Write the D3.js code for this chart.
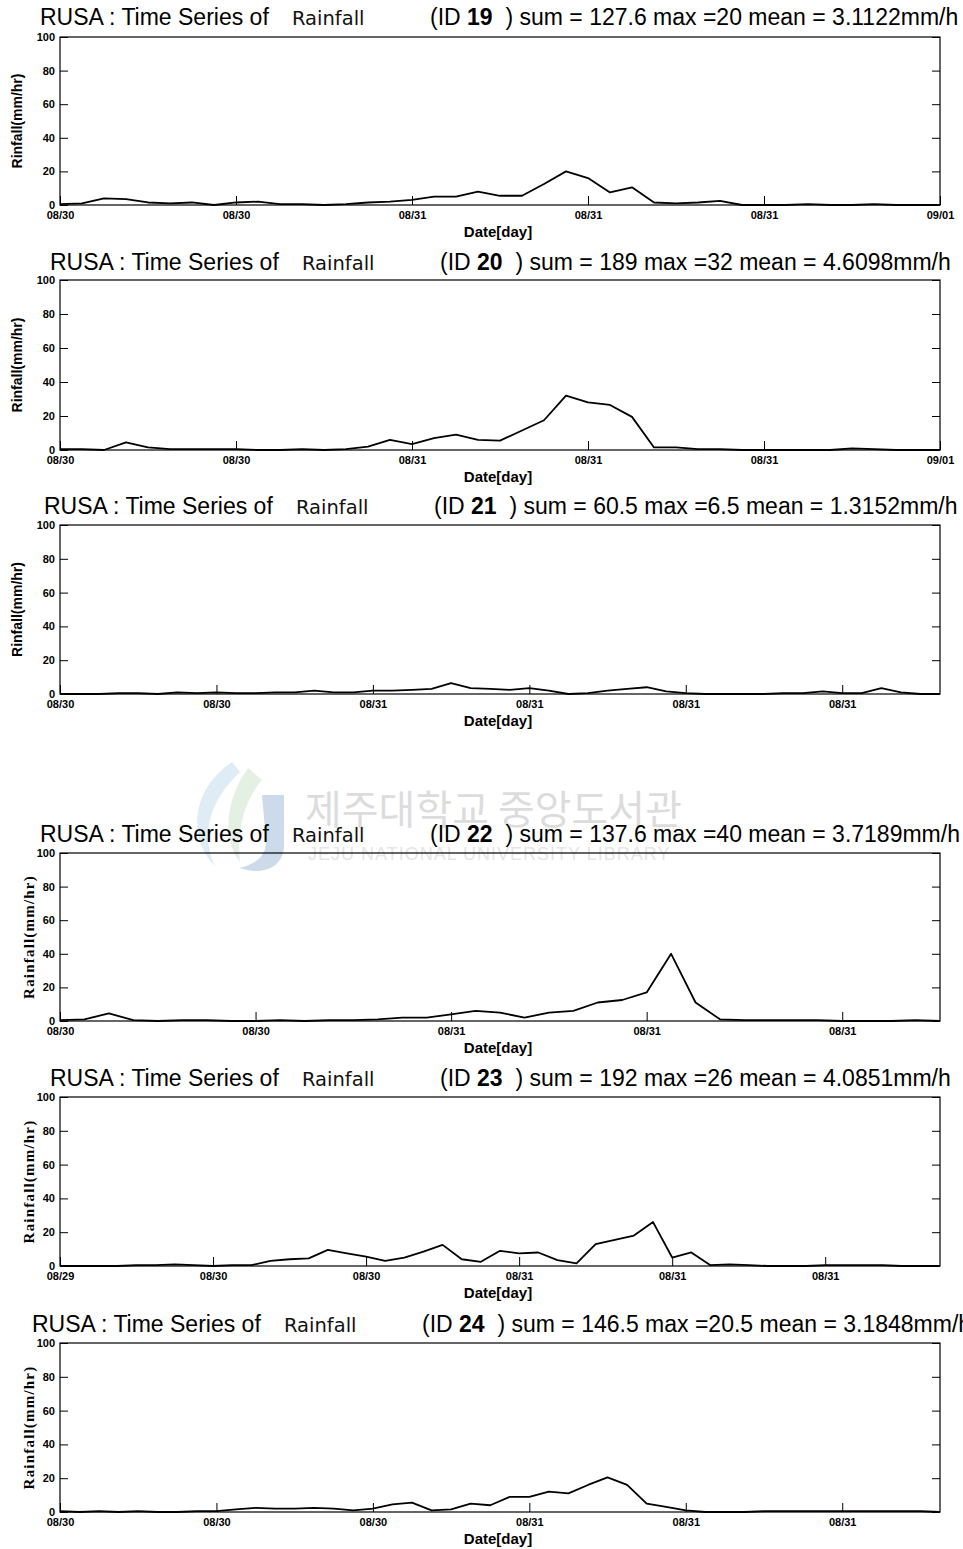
<!DOCTYPE html>
<html>
<head>
<meta charset="utf-8">
<script src="https://cdn.jsdelivr.net/npm/d3@7"></script>
<style>
  body { margin: 0; background: #fff; }
  svg { display: block; }
</style>
</head>
<body>
<div id="container"></div>
<script>
// hourly rainfall per station (mm/h)
var ids = ["19", "20", "21", "22", "23", "24"];
var sums = ["127.6", "189", "60.5", "137.6", "192", "146.5"];
var maxs = ["20", "32", "6.5", "40", "26", "20.5"];
var means = ["3.1122", "4.6098", "1.3152", "3.7189", "4.0851", "3.1848"];

var rain19 = [0.5, 1, 4, 3.5, 1.5, 1, 1.5, 0, 1.5, 2, 0.5, 0.5, 0, 0.5, 1.5, 2, 3, 5, 5, 8,
  5.5, 5.5, 12.5, 20, 16, 7.5, 10.5, 1.5, 1, 1.5, 2.5, 0, 0, 0, 0.5, 0, 0, 0.5, 0, 0, 0];
var rain20 = [0.5, 0.5, 0, 4.5, 1.5, 0.5, 0.5, 0.5, 0.5, 0, 0, 0.5, 0, 0.5, 2, 6, 3.5, 7, 9, 6,
  5.5, 11.5, 17.5, 32, 28, 26.5, 19.5, 1.5, 1.5, 0.5, 0.5, 0, 0, 0, 0, 0, 1, 0.5, 0, 0, 0];
var rain21 = [0, 0, 0, 0.5, 0.5, 0, 1, 0.5, 1, 0.5, 0.5, 1, 1, 2, 1, 1, 2, 2, 2.5, 3,
  6.5, 3.5, 3, 2.5, 3.5, 2, 0, 0.5, 2, 3, 4, 1.5, 0.5, 0, 0, 0, 0, 0.5, 0.5, 1.5,
  0.5, 0.5, 3.5, 1, 0, 0];
var rain22 = [0.5, 1, 4.5, 0.5, 0, 0.5, 0.5, 0, 0, 0.5, 0, 0.5, 0.5, 1, 2, 2, 4, 6, 5, 2,
  5, 6, 11, 12.5, 17, 40, 11, 1, 0.5, 0.5, 0.5, 0.5, 0, 0, 0, 0.5, 0];
var rain23 = [0, 0, 0, 0, 0.5, 0.5, 1, 0.5, 0, 0.5, 0.5, 3, 4, 4.5, 9.5, 7.5, 5.5, 3, 5, 8.5,
  12.5, 4, 2.5, 9, 7.5, 8, 3.5, 1.5, 13, 15.5, 18, 26, 5, 8, 0.5, 1, 0.5, 0, 0, 0,
  0.5, 0.5, 0.5, 0.5, 0, 0, 0];
var rain24 = [0.5, 0, 0.5, 0, 0.5, 0, 0, 0.5, 0.5, 1.5, 2.5, 2, 2, 2.5, 2, 1, 2, 4.5, 5.5, 1,
  1.5, 5, 4, 9, 9, 12, 11, 16, 20.5, 16, 5, 3, 1, 0, 0, 0, 0.5, 0.5, 0.5, 0.5,
  0.5, 0.5, 0.5, 0.5, 0.5, 0];

var tickLabels19 = ["08/30", "08/30", "08/31", "08/31", "08/31", "09/01"];
var tickLabels20 = ["08/30", "08/30", "08/31", "08/31", "08/31", "09/01"];
var tickLabels21 = ["08/30", "08/30", "08/31", "08/31", "08/31", "08/31"];
var tickLabels22 = ["08/30", "08/30", "08/31", "08/31", "08/31"];
var tickLabels23 = ["08/29", "08/30", "08/30", "08/31", "08/31", "08/31"];
var tickLabels24 = ["08/30", "08/30", "08/30", "08/31", "08/31", "08/31"];
var tickStep = 8; // hours between date ticks
var yTicks = [0, 20, 40, 60, 80, 100];

var series = [rain19, rain20, rain21, rain22, rain23, rain24];
var tickLabels = [tickLabels19, tickLabels20, tickLabels21, tickLabels22, tickLabels23, tickLabels24];

// where each pasted figure sits on the page
var layout = [
  { top: 37,   bottom: 205,  titleX: 40, titleY: 25,   yLab: "Rinfall(mm/hr)", serif: false },
  { top: 280,  bottom: 450,  titleX: 50, titleY: 270,  yLab: "Rinfall(mm/hr)", serif: false },
  { top: 525,  bottom: 694,  titleX: 44, titleY: 514,  yLab: "Rinfall(mm/hr)", serif: false },
  { top: 853,  bottom: 1021, titleX: 40, titleY: 842,  yLab: "Rainfall(mm/hr)", serif: true },
  { top: 1097, bottom: 1266, titleX: 50, titleY: 1086, yLab: "Rainfall(mm/hr)", serif: true },
  { top: 1343, bottom: 1512, titleX: 32, titleY: 1332, yLab: "Rainfall(mm/hr)", serif: true }
];

var W = 963, H = 1549;
var left = 60, right = 940;
var sans = "Liberation Sans, Arial, Helvetica, sans-serif";
var serifFont = "Liberation Serif, Times New Roman, serif";

var svg = d3.select('#container').append('svg')
  .attr('width', W).attr('height', H);

// faint library watermark
var wm = svg.append('g').attr('opacity', 0.25);
wm.append('path')
  .attr('d', 'M232,762 C190,790 188,840 215,866 C200,835 210,800 240,772 Z')
  .attr('fill', '#7fb8d8');
wm.append('path')
  .attr('d', 'M248,768 C225,800 222,840 240,862 C236,830 245,800 262,780 Z')
  .attr('fill', '#9cc79a');
wm.append('path')
  .attr('d', 'M262,795 L284,795 L284,845 C284,868 262,876 240,868 C262,862 266,852 266,840 Z')
  .attr('fill', '#3b6fb0');
wm.append('text').attr('x', 305).attr('y', 824).attr('font-family', 'Noto Sans CJK KR')
  .attr('font-size', 40).attr('fill', '#777').text('제주대학교 중앙도서관');
wm.append('text').attr('x', 308).attr('y', 860).attr('font-family', sans)
  .attr('font-size', 18).attr('fill', '#999').attr('letter-spacing', 1)
  .text('JEJU NATIONAL UNIVERSITY LIBRARY');

series.forEach(function(vals, p) {
  var L = layout[p];
  var g = svg.append('g');

  var x = d3.scaleLinear().domain([0, vals.length - 1]).range([left, right]);
  var y = d3.scaleLinear().domain([0, 100]).range([L.bottom, L.top]);

  var ticks = tickLabels[p].map(function(t, i) { return i * tickStep; });

  // frame
  g.append('rect')
    .attr('x', left).attr('y', L.top)
    .attr('width', right - left).attr('height', L.bottom - L.top)
    .attr('fill', 'none').attr('stroke', '#000').attr('stroke-width', 1.2);

  // left y axis, ticks inside
  var yAxis = d3.axisLeft(y).tickValues(yTicks).tickSizeInner(-8).tickSizeOuter(0).tickPadding(5);
  var ya = g.append('g').attr('transform', 'translate(' + left + ',0)').call(yAxis);
  ya.select('.domain').remove();
  ya.selectAll('text').attr('font-family', sans).attr('font-size', 11).attr('font-weight', 'bold');

  var yAxisR = d3.axisRight(y).tickValues(yTicks).tickSizeInner(-8).tickSizeOuter(0).tickFormat('');
  var yr = g.append('g').attr('transform', 'translate(' + right + ',0)').call(yAxisR);
  yr.select('.domain').remove();

  // bottom date axis, ticks inside
  var xAxis = d3.axisBottom(x).tickValues(ticks).tickSizeInner(-9).tickSizeOuter(0).tickPadding(13)
    .tickFormat(function(d, i) { return tickLabels[p][i]; });
  var xa = g.append('g').attr('transform', 'translate(0,' + L.bottom + ')').call(xAxis);
  xa.select('.domain').remove();
  xa.selectAll('text').attr('font-family', sans).attr('font-size', 11).attr('font-weight', 'bold')
    .attr('dy', '0.1em');

  // rainfall line
  var line = d3.line().x(function(d, i) { return x(i); }).y(function(d) { return y(d); });
  g.append('path').datum(vals)
    .attr('d', line)
    .attr('fill', 'none').attr('stroke', '#000').attr('stroke-width', 1.8)
    .attr('stroke-linejoin', 'round');

  // axis titles
  g.append('text')
    .attr('x', 498).attr('y', L.bottom + 32)
    .attr('text-anchor', 'middle')
    .attr('font-family', sans).attr('font-size', 15).attr('font-weight', 'bold')
    .text('Date[day]');

  var cy = (L.top + L.bottom) / 2;
  var lx = L.serif ? 34 : 22;
  g.append('text')
    .attr('transform', 'translate(' + lx + ',' + cy + ') rotate(-90)')
    .attr('text-anchor', 'middle')
    .attr('font-family', L.serif ? serifFont : sans)
    .attr('font-size', L.serif ? 15 : 14).attr('font-weight', 'bold')
    .attr('letter-spacing', L.serif ? 1.2 : 0)
    .text(L.yLab);

  // figure title
  var t = g.append('text').attr('y', L.titleY).attr('font-family', sans).attr('font-size', 23);
  t.append('tspan').attr('x', L.titleX).text('RUSA : Time Series of');
  t.append('tspan').attr('x', L.titleX + 252).attr('font-family', 'DejaVu Sans').attr('font-size', 19.5)
    .attr('fill', '#111').text('Rainfall');
  var t2 = g.append('text').attr('y', L.titleY).attr('x', L.titleX + 390)
    .attr('font-family', sans).attr('font-size', 23);
  t2.append('tspan').text('(ID ');
  t2.append('tspan').attr('font-weight', 'bold').text(ids[p]);
  t2.append('tspan').attr('xml:space', 'preserve').text('  ) sum = ' + sums[p] + ' max =' + maxs[p] +
    ' mean = ' + means[p] + 'mm/h');
});
</script>
</body>
</html>
